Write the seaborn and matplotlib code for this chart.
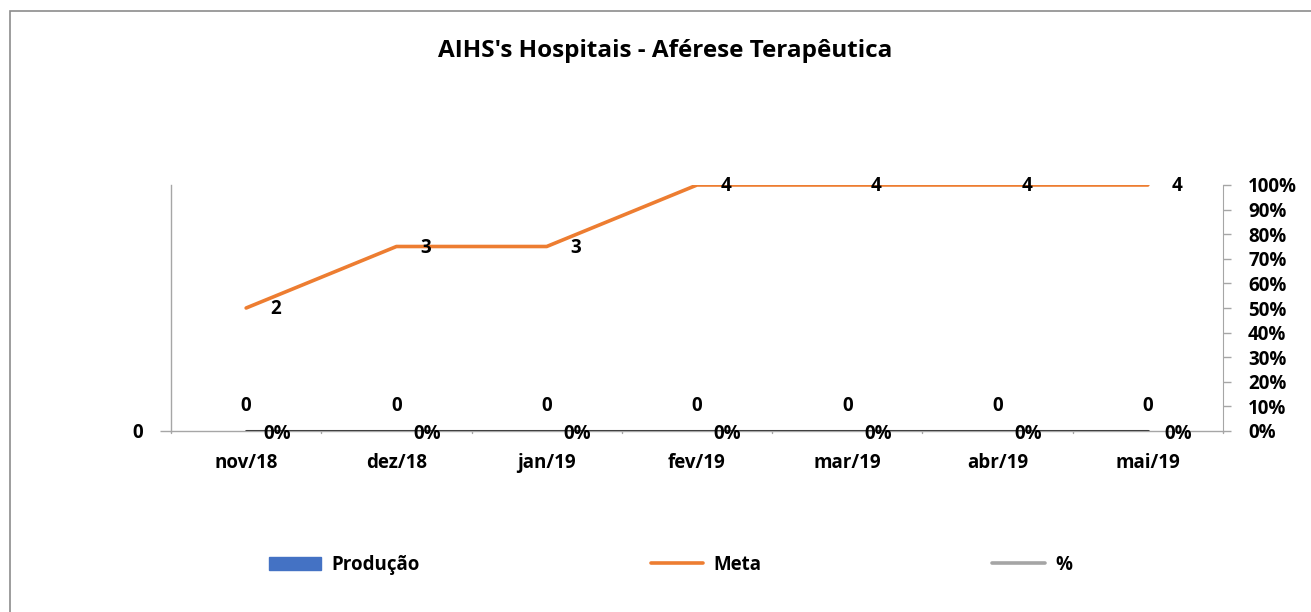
import numpy as np
import pandas as pd
import matplotlib
matplotlib.use("Agg")
import matplotlib.pyplot as plt
import matplotlib.ticker as mtick
from matplotlib.lines import Line2D
from matplotlib.patches import Patch, Rectangle
import seaborn as sns

# Data
months = ["nov/18", "dez/18", "jan/19", "fev/19", "mar/19", "abr/19", "mai/19"]
producao = [0, 0, 0, 0, 0, 0, 0]
meta = [2, 3, 3, 4, 4, 4, 4]
pct = [0, 0, 0, 0, 0, 0, 0]

df = pd.DataFrame({"mes": months, "Produção": producao, "Meta": meta, "pct": pct})

sns.set_style("white")
plt.rcParams["font.family"] = ["Open Sans", "DejaVu Sans"]
plt.rcParams["font.weight"] = "bold"
plt.rcParams["text.color"] = "black"
plt.rcParams["xtick.color"] = "black"
plt.rcParams["ytick.color"] = "black"

BLUE = "#4472C4"
ORANGE = "#ED7D31"
GREY = "#A5A5A5"
AXGREY = "#A6A6A6"
fs = 13.5

fig = plt.figure(figsize=(13.11, 6.12), dpi=100)
ax = fig.add_axes([171 / 1311, 181 / 612, 1052 / 1311, 246 / 612])
x = np.arange(len(months))

# bars (all zero)
sns.barplot(data=df, x="mes", y="Produção", color=BLUE, ax=ax, width=0.6)
# meta line
sns.lineplot(x=x, y=df["Meta"], color=ORANGE, lw=2.6, ax=ax)
ax.set_xlim(-0.5, len(months) - 0.5)
ax.set_ylim(0, 4)
ax.set_yticks([0])
ax.set_yticklabels(["0"], fontsize=fs, fontweight="bold")
ax.set_xticks(x)
ax.set_xticklabels(months, fontsize=fs, fontweight="bold")
ax.tick_params(axis="x", length=0, pad=16)
ax.tick_params(axis="y", length=8, color=AXGREY, width=1, pad=12)
ax.set_xlabel("")
ax.set_ylabel("")
for s in ["top", "right"]:
    ax.spines[s].set_visible(False)
for s in ["left", "bottom"]:
    ax.spines[s].set_color(AXGREY)
    ax.spines[s].set_linewidth(1)
# category boundary ticks
for b in np.arange(-0.5, len(months), 1.0):
    ax.plot([b, b], [0, -0.035], color=AXGREY, lw=1, clip_on=False)

# labels
for i, v in enumerate(producao):
    ax.annotate(f"{v}", (i, v), xytext=(0, 11), textcoords="offset points",
                ha="center", va="bottom", fontsize=fs, fontweight="bold")
for i, v in enumerate(meta):
    ax.annotate(f"{v}", (i, v), xytext=(21, -1), textcoords="offset points",
                ha="center", va="center", fontsize=fs, fontweight="bold")

# secondary axis for %
ax2 = ax.twinx()
ax2.plot(x, pct, color="#404040", lw=2.2, zorder=3)
ax2.set_ylim(0, 1)
ax2.set_yticks(np.arange(0, 1.01, 0.1))
ax2.yaxis.set_major_formatter(mtick.PercentFormatter(1.0, decimals=0))
for lab in ax2.get_yticklabels():
    lab.set_fontsize(fs)
    lab.set_fontweight("bold")
ax2.tick_params(axis="y", length=6, color=AXGREY, width=1, pad=12)
for s in ["top", "left", "bottom"]:
    ax2.spines[s].set_visible(False)
ax2.spines["right"].set_color(AXGREY)
for i, v in enumerate(pct):
    ax2.annotate(f"{v:.0%}", (i, v), xytext=(22, -2), textcoords="offset points",
                 ha="center", va="center", fontsize=fs, fontweight="bold", zorder=5)
ax2.set_xlim(-0.5, len(months) - 0.5)

fig.text(0.5 + 10 / 1311, 1 - 51 / 612, "AIHS's Hospitais - Aférese Terapêutica",
         ha="center", va="center", fontsize=17.5, fontweight="bold")

handles = [Patch(facecolor=BLUE, edgecolor=BLUE),
           Line2D([0], [0], color=ORANGE, lw=2.6),
           Line2D([0], [0], color=GREY, lw=2.6)]
fig.legend(handles, ["Produção", "Meta", "%"], loc="center",
           bbox_to_anchor=(0.5 + 15 / 1311, 1 - 565 / 612), ncol=3, frameon=False,
           prop={"size": fs, "weight": "bold"}, handlelength=2.8,
           handleheight=0.75, handletextpad=0.55, columnspacing=12.3)

# figure border
fig.patches.append(Rectangle((10 / 1311, -0.1), 1.2, 1.1 - 11 / 612, transform=fig.transFigure,
                             fill=False, edgecolor="#8C8C8C", lw=1.2))

fig.savefig("out.png", dpi=100)
